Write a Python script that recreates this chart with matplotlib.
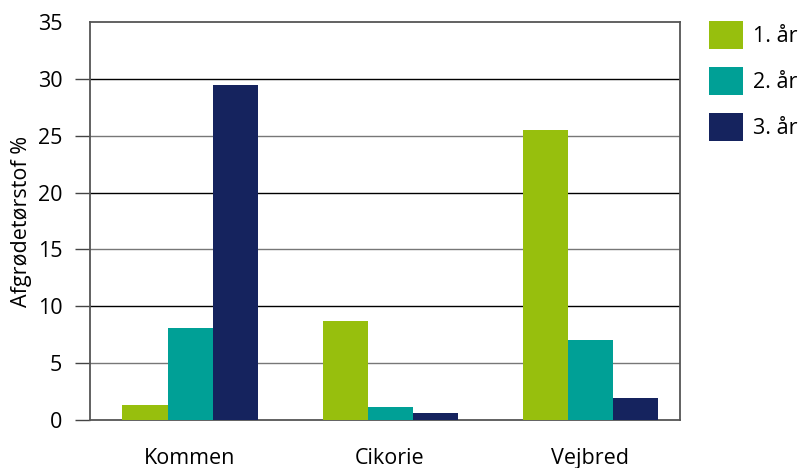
import matplotlib
matplotlib.use("Agg")
import matplotlib.pyplot as plt
import numpy as np

plt.rcParams["font.family"] = ["Open Sans", "DejaVu Sans"]

categories = ["Kommen", "Cikorie", "Vejbred"]
series_names = ["1. år", "2. år", "3. år"]
aar1 = [1.3, 8.7, 25.5]
aar2 = [8.1, 1.15, 7.0]
aar3 = [29.5, 0.6, 1.9]
colors = ["#97bf0d", "#00a096", "#15235e"]
yticks = [0, 5, 10, 15, 20, 25, 30, 35]

fig = plt.figure(figsize=(8.01, 4.68), dpi=100)
ax = fig.add_axes([90 / 801, 48 / 468, 590 / 801, 398 / 468])

x = np.arange(len(categories))
w = 0.225
for i, (vals, name) in enumerate(zip([aar1, aar2, aar3], series_names)):
    ax.bar(x + (i - 1) * w, vals, width=w, color=colors[i], label=name, zorder=3)

# gridlines, alternating black / grey
for v in yticks[1:-1]:
    c = "black" if v % 10 == 0 else "#777777"
    ax.axhline(v, color=c, lw=1.0, zorder=1)

ax.set_xlim(-0.5, 2.45)
ax.set_ylim(0, 35)
ax.set_yticks(yticks)
ax.set_xticks(x)
ax.set_xticklabels(categories, fontsize=15.5)
ax.tick_params(axis="x", length=0, pad=20)
ax.tick_params(axis="y", length=11, width=1.0, color="#444444", labelsize=15.5, pad=9)
# no tick mark at the top value, ticks take the gridline colour
ylines = ax.yaxis.get_ticklines()
for k, v in enumerate(yticks):
    ylines[2 * k].set_color("black" if v % 10 == 0 else "#777777")
ylines[2 * (len(yticks) - 1)].set_visible(False)
for s in ax.spines.values():
    s.set_color("#555555")
    s.set_linewidth(1.3)
ax.set_ylabel("Afgrødetørstof %", fontsize=15.5, labelpad=4)

ax.legend(loc="upper left", bbox_to_anchor=(709 / 801, 1 - 21 / 468),
          bbox_transform=fig.transFigure, frameon=False, fontsize=15.5,
          handlelength=1.6, handleheight=1.6, handletextpad=0.45,
          borderpad=0, borderaxespad=0, labelspacing=0.85)

fig.savefig("out.png", dpi=100)
